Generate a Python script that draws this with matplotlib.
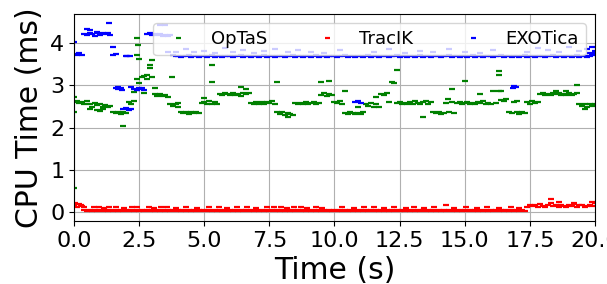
import numpy as np
import matplotlib
matplotlib.use("Agg")
import matplotlib.pyplot as plt

# sample times (s), one reading every 0.1 s
time_s = np.round(np.arange(0, 201) * 0.1, 1)

# CPU time per solve (ms)
optas_ms = [
    2.60, 2.63, 2.58, 2.61, 2.57, 2.62, 2.56, 2.48, 2.58, 2.53,
    2.56, 2.50, 2.54, 2.49, 2.52, 2.38, 2.35, 2.36, 2.33, 2.37,
    2.34, 2.60, 2.55, 2.85, 3.15, 3.62, 3.20, 3.22, 3.25, 3.40,
    3.20, 2.80, 2.76, 2.80, 2.74, 2.78, 2.72, 2.56, 2.52, 2.55,
    2.50, 2.36, 2.34, 2.37, 2.33, 2.36, 2.34, 2.37, 2.35, 2.58,
    2.60, 2.56, 2.62, 2.57, 2.60, 2.55, 2.80, 2.78, 2.82, 2.79,
    2.77, 2.81, 2.78, 2.80, 2.76, 2.82, 2.79, 2.83, 2.58, 2.55,
    2.60, 2.57, 2.61, 2.56, 2.60, 2.58, 2.62, 2.55, 2.38, 2.33,
    2.36, 2.31, 2.35, 2.32, 2.30, 2.58, 2.56, 2.59, 2.57, 2.60,
    2.56, 2.58, 2.61, 2.57, 2.59, 2.78, 2.82, 2.76, 2.80, 2.78,
    2.60, 2.58, 2.62, 2.57, 2.35, 2.33, 2.36, 2.34, 2.32, 2.35,
    2.33, 2.36, 2.57, 2.52, 2.58, 2.48, 2.55, 2.50, 2.80, 2.78,
    2.82, 2.60, 3.07, 3.05, 2.58, 2.60, 2.56, 2.59, 2.55, 2.60,
    2.57, 2.62, 2.58, 2.55, 2.60, 2.63, 2.57, 2.60, 2.38, 2.34,
    2.36, 2.32, 2.35, 2.58, 2.36, 2.60, 2.34, 2.58, 2.60, 2.56,
    2.58, 2.61, 2.57, 2.59, 2.55, 2.60, 2.58, 2.62, 2.57, 2.59,
    2.56, 2.86, 2.58, 2.86, 2.66, 2.63, 2.68, 2.38, 2.34, 2.60,
    2.36, 2.33, 2.37, 2.35, 2.60, 2.57, 2.62, 2.58, 2.60, 2.80,
    2.82, 2.78, 2.80, 2.77, 2.81, 2.79, 2.83, 2.78, 2.80, 2.77,
    2.81, 2.78, 2.80, 2.82, 2.55, 2.52, 2.57, 2.50, 2.55, 2.52,
    2.56,
]
optas_extra_t = [0.0, 0.0, 0.0, 0.6, 0.9, 1.0, 1.9, 2.4, 2.45, 2.4,
                 2.5, 2.3, 2.7, 2.8, 2.9, 3.0, 3.1, 3.75, 5.0, 5.3,
                 5.3, 6.4, 6.6, 7.8, 9.5, 9.8, 10.4, 11.6, 12.4, 13.4,
                 14.5, 14.35, 15.0, 15.6, 16.3, 16.3, 16.4, 18.5, 18.9, 19.3,
                 19.6, 1.1, 4.0, 8.2, 10.9, 17.0]
optas_extra_ms = [0.56, 2.72, 2.38, 2.45, 2.42, 2.40, 2.04, 4.12, 3.95, 3.72,
                  3.06, 2.62, 2.82, 3.15, 3.48, 3.60, 2.94, 3.19, 2.70, 3.48,
                  3.08, 2.96, 2.92, 3.08, 3.09, 3.11, 2.86, 2.72, 3.36, 2.25,
                  2.92, 2.68, 3.11, 2.80, 3.33, 3.25, 2.86, 2.86, 2.86, 3.00,
                  2.44, 2.45, 2.58, 2.26, 2.50, 2.62]

tracik_ms = [
    0.18, 0.12, 0.20, 0.14, 0.06, 0.02, 0.05, 0.03, 0.06, 0.02,
    0.05, 0.03, 0.06, 0.02, 0.05, 0.03, 0.06, 0.02, 0.05, 0.03,
    0.06, 0.02, 0.05, 0.03, 0.06, 0.02, 0.05, 0.03, 0.06, 0.02,
    0.05, 0.03, 0.06, 0.02, 0.05, 0.03, 0.06, 0.02, 0.05, 0.03,
    0.06, 0.02, 0.05, 0.03, 0.06, 0.02, 0.05, 0.03, 0.06, 0.02,
    0.05, 0.03, 0.06, 0.02, 0.05, 0.03, 0.06, 0.02, 0.05, 0.03,
    0.06, 0.02, 0.05, 0.03, 0.06, 0.02, 0.05, 0.03, 0.06, 0.02,
    0.05, 0.03, 0.06, 0.02, 0.05, 0.03, 0.06, 0.02, 0.05, 0.03,
    0.06, 0.02, 0.05, 0.03, 0.06, 0.02, 0.05, 0.03, 0.06, 0.02,
    0.05, 0.03, 0.06, 0.02, 0.05, 0.03, 0.06, 0.02, 0.05, 0.03,
    0.06, 0.02, 0.05, 0.03, 0.06, 0.02, 0.05, 0.03, 0.06, 0.02,
    0.05, 0.03, 0.06, 0.02, 0.05, 0.03, 0.06, 0.02, 0.05, 0.03,
    0.06, 0.02, 0.05, 0.03, 0.06, 0.02, 0.05, 0.03, 0.06, 0.02,
    0.05, 0.03, 0.06, 0.02, 0.05, 0.03, 0.06, 0.02, 0.05, 0.03,
    0.06, 0.02, 0.05, 0.03, 0.06, 0.02, 0.05, 0.03, 0.06, 0.02,
    0.05, 0.03, 0.06, 0.02, 0.05, 0.03, 0.06, 0.02, 0.05, 0.03,
    0.06, 0.02, 0.05, 0.03, 0.06, 0.02, 0.05, 0.03, 0.06, 0.02,
    0.05, 0.03, 0.06, 0.02, 0.12, 0.16, 0.14, 0.18, 0.13, 0.20,
    0.15, 0.12, 0.17, 0.22, 0.14, 0.16, 0.13, 0.18, 0.15, 0.12,
    0.17, 0.14, 0.20, 0.13, 0.16, 0.18, 0.12, 0.15, 0.17, 0.14,
    0.21,
]
tracik_extra_t = [0.05, 0.25, 0.38, 0.77, 0.96, 1.15, 1.34, 1.6, 1.92, 2.24,
                  2.43, 2.88, 3.07, 3.33, 3.58, 3.9, 4.29, 4.73, 5.18, 5.57,
                  5.89, 6.27, 6.65, 6.97, 7.42, 7.68, 7.93, 8.19, 8.45, 8.7,
                  8.96, 9.28, 9.53, 10.3, 10.75, 11.13, 11.5, 11.9, 12.3, 12.73,
                  13.05, 13.44, 13.82, 14.27, 14.6, 15.04, 15.48, 15.87, 16.31, 16.76,
                  17.08, 18.3, 18.6, 19.2, 19.9]
tracik_extra_ms = [0.22, 0.17, 0.12, 0.11, 0.13, 0.10, 0.12, 0.11, 0.10, 0.12,
                   0.11, 0.13, 0.10, 0.11, 0.12, 0.10, 0.11, 0.10, 0.12, 0.11,
                   0.10, 0.12, 0.11, 0.10, 0.12, 0.11, 0.13, 0.10, 0.11, 0.12,
                   0.10, 0.11, 0.10, 0.11, 0.10, 0.12, 0.11, 0.10, 0.11, 0.10,
                   0.12, 0.10, 0.11, 0.17, 0.10, 0.11, 0.10, 0.12, 0.10, 0.11,
                   0.10, 0.30, 0.24, 0.22, 0.24]

exotica_ms = [
    3.74, 3.72, 3.76, 3.71, 4.22, 4.19, 4.24, 4.21, 4.18, 4.23,
    4.20, 4.25, 4.21, 4.24, 4.19, 3.72, 2.94, 2.92, 2.95, 2.44,
    3.69, 2.42, 2.45, 2.92, 2.90, 2.93, 2.91, 2.89, 4.21, 4.23,
    4.20, 4.22, 4.19, 4.21, 4.18, 4.20, 4.17, 4.20, 3.72, 3.70,
    3.69, 3.68, 3.70, 3.69, 3.71, 3.68, 3.69, 3.70, 3.68, 3.69,
    3.70, 3.68, 3.69, 3.71, 3.68, 3.69, 3.70, 3.68, 3.69, 3.70,
    3.69, 3.68, 3.70, 3.69, 3.71, 3.68, 3.69, 3.70, 3.68, 3.69,
    3.70, 3.68, 3.69, 3.71, 3.68, 3.69, 3.70, 3.68, 3.69, 3.70,
    3.69, 3.68, 3.70, 3.69, 3.71, 3.68, 3.69, 3.70, 3.68, 3.69,
    3.70, 3.68, 3.69, 3.71, 3.68, 3.69, 3.70, 3.68, 3.69, 3.70,
    3.69, 3.68, 3.70, 3.69, 3.71, 3.68, 3.69, 3.70, 3.68, 3.69,
    3.70, 3.68, 3.69, 3.71, 3.68, 3.69, 3.70, 3.68, 3.69, 3.70,
    3.69, 3.68, 3.70, 3.69, 3.71, 3.68, 3.69, 3.70, 3.68, 3.69,
    3.70, 3.68, 3.69, 3.71, 3.68, 3.69, 3.70, 3.68, 3.69, 3.70,
    3.69, 3.68, 3.70, 3.69, 3.71, 3.68, 3.69, 3.70, 3.68, 3.69,
    3.70, 3.68, 3.69, 3.71, 3.68, 3.69, 3.70, 3.68, 3.69, 3.70,
    3.69, 3.68, 3.70, 3.69, 3.71, 3.68, 3.69, 3.70, 3.68, 3.69,
    3.70, 3.68, 3.69, 3.71, 3.68, 3.69, 3.70, 3.68, 3.69, 3.70,
    3.69, 3.68, 3.70, 3.69, 3.71, 3.68, 3.69, 3.70, 3.68, 3.69,
    3.70, 3.68, 3.69, 3.71, 3.68, 3.69, 3.70, 3.68, 3.69, 3.72,
    3.82,
]
exotica_extra_t = [0.0, 0.5, 0.6, 0.9, 1.35, 1.5, 1.6, 2.05, 2.15, 1.7,
                   1.85, 2.0, 2.2, 2.4, 2.6, 3.3, 3.5, 3.6, 3.9, 4.3,
                   4.6, 5.0, 5.4, 5.8, 6.1, 6.5, 6.9, 7.3, 7.7, 8.2,
                   8.6, 9.1, 9.6, 10.2, 10.8, 10.9, 11.0, 11.5, 12.1, 12.7,
                   13.3, 13.8, 14.4, 15.0, 15.6, 16.1, 16.85, 16.9, 16.95, 17.4,
                   17.8, 18.2, 18.6, 19.0, 19.4, 19.7, 19.8, 19.9, 20.0]
exotica_extra_ms = [4.02, 4.33, 4.31, 4.27, 4.47, 3.90, 3.74, 3.69, 3.70, 2.97,
                    2.89, 2.46, 2.96, 2.88, 2.95, 4.43, 4.43, 3.78, 3.80, 3.85,
                    3.78, 3.82, 3.76, 3.88, 3.79, 3.84, 3.77, 3.82, 3.86, 3.78,
                    3.83, 3.80, 3.76, 3.84, 2.60, 2.62, 2.58, 3.79, 3.85, 3.77,
                    3.82, 3.78, 3.86, 3.80, 3.77, 3.83, 2.93, 2.99, 2.96, 3.79,
                    3.88, 3.84, 3.78, 3.90, 3.82, 3.86, 3.76, 3.90, 3.76]

fig = plt.figure(figsize=(6.07, 2.84), dpi=100)
ax = fig.add_axes([0.1219, 0.2218, 0.8583, 0.7289])

mk = dict(linestyle="none", marker="_", markersize=4.5, markeredgewidth=1.6)
ax.plot(np.concatenate([time_s, optas_extra_t]),
        np.concatenate([optas_ms, optas_extra_ms]), color="g", label="OpTaS", **mk)
ax.plot(np.concatenate([time_s, tracik_extra_t]),
        np.concatenate([tracik_ms, tracik_extra_ms]), color="r", label="TracIK", **mk)
ax.plot(np.concatenate([time_s, exotica_extra_t]),
        np.concatenate([exotica_ms, exotica_extra_ms]), color="b", label="EXOTica", **mk)

ax.set_xlim(0, 20)
ax.set_ylim(-0.21, 4.69)
ax.set_xticks(np.arange(0, 20.1, 2.5))
ax.set_yticks([0, 1, 2, 3, 4])
ax.grid(True)
ax.tick_params(labelsize=16)
ax.set_xlabel("Time (s)", fontsize=21.5)
ax.set_ylabel("CPU Time (ms)", fontsize=21.5)
ax.legend(loc="upper right", ncol=3, fontsize=13, markerscale=0.8,
          columnspacing=2.3)

fig.savefig("out.png", dpi=100)
